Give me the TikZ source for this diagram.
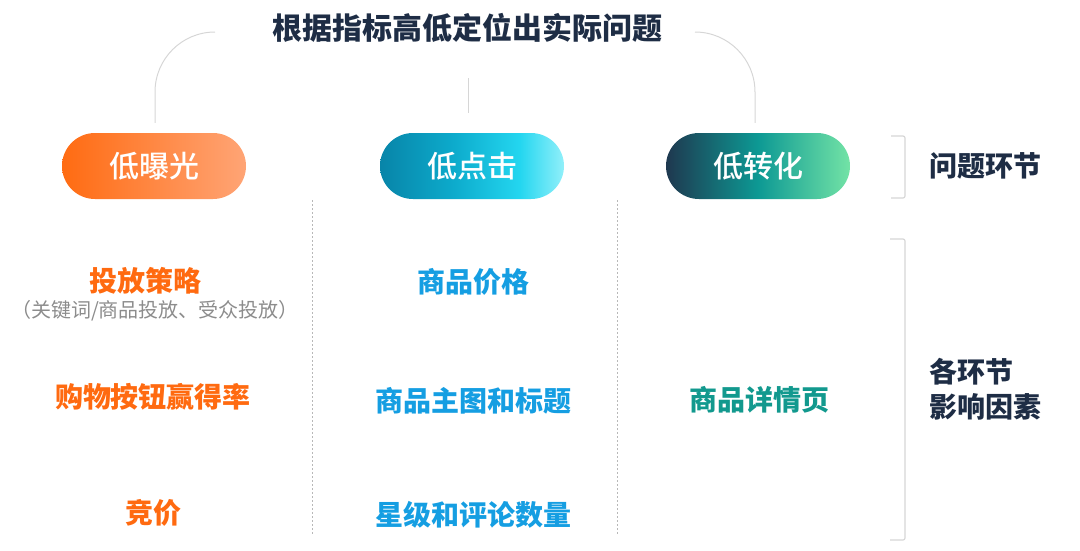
\documentclass[tikz,border=0pt]{standalone}
\usepackage{fontspec}
\setmainfont{Noto Sans CJK SC}
\newfontfamily\medfont{Noto Sans CJK SC Medium}
\usetikzlibrary{positioning}
\definecolor{navy}{HTML}{1E2D45}
\definecolor{orangetxt}{HTML}{FF6A10}
\definecolor{bluetxt}{HTML}{159EE2}
\definecolor{tealtxt}{HTML}{12998E}
\definecolor{linegray}{HTML}{D6D6D6}
\pgfdeclarehorizontalshading{exposhade}{100bp}{rgb(0bp)=(1,0.42,0.07); rgb(25bp)=(1,0.42,0.07);
  rgb(75bp)=(1,0.645,0.46); rgb(100bp)=(1,0.645,0.46)}
\pgfdeclarehorizontalshading{clickshade}{100bp}{rgb(0bp)=(0.03,0.52,0.66); rgb(25bp)=(0.03,0.52,0.66);
  rgb(45bp)=(0.05,0.67,0.80); rgb(63bp)=(0.14,0.84,0.94); rgb(75bp)=(0.57,0.94,0.98); rgb(100bp)=(0.57,0.94,0.98)}
\pgfdeclarehorizontalshading{convshade}{100bp}{rgb(0bp)=(0.12,0.22,0.31); rgb(25bp)=(0.12,0.22,0.31);
  rgb(50bp)=(0.05,0.60,0.58); rgb(75bp)=(0.45,0.89,0.65); rgb(100bp)=(0.45,0.89,0.65)}

\begin{document}
\begin{tikzpicture}[x=1pt,y=-1pt,
    pill/.style={rounded corners=33pt, minimum width=184pt, minimum height=66pt,
      inner sep=0pt, text=white, font=\fontsize{30}{34}\medfont},
    factor/.style={font=\fontsize{28}{32}\selectfont\bfseries},
    side/.style={text=navy, font=\fontsize{28}{35}\selectfont\bfseries, align=left},
    bracket/.style={draw=linegray, line width=1.2pt, rounded corners=2pt},
    guide/.style={draw=linegray, line width=1pt},
    sep/.style={draw=black!28, dash pattern=on 2pt off 2pt, line width=0.8pt}]
  \useasboundingbox (0,0) rectangle (1080,550);
  % title
  \node[text=navy, font=\fontsize{30}{34}\selectfont\bfseries] (title) at (467,28) {根据指标高低定位出实际问题};
  % the three problem stages
  \node[pill, shading=exposhade] (expo) at (154,166) {低曝光};
  \node[pill, shading=clickshade] (click) at (472,166) {低点击};
  \node[pill, shading=convshade] (conv) at (758,166) {低转化};
  % guide lines from title
  \coordinate (lefttop) at (215,32);
  \coordinate (righttop) at (695,32);
  \draw[guide, rounded corners=60pt] (lefttop) -- (155,32) -- ([yshift=10pt]expo.north -| 155,0);
  \draw[guide, rounded corners=60pt] (righttop) -- (755,32) -- ([yshift=10pt]conv.north -| 755,0);
  \draw[guide] (468,78) -- (468,113);
  % column separators
  \draw[sep] (312,200) -- (312,534);
  \draw[sep] (617,200) -- (617,534);
  % exposure factors
  \node[factor, text=orangetxt] (strategy) at (145,281) {投放策略};
  \node[text=black!45, font=\fontsize{20}{24}\selectfont] (strategynote) at (155,311) {（关键词/商品投放、受众投放）};
  \node[factor, text=orangetxt] (buybox) at (153,397) {购物按钮赢得率};
  \node[factor, text=orangetxt] (bid) at (153,513) {竞价};
  % click factors
  \node[factor, text=bluetxt] (price) at (473,282) {商品价格};
  \node[factor, text=bluetxt] (image) at (473,401) {商品主图和标题};
  \node[factor, text=bluetxt] (review) at (473,515) {星级和评论数量};
  % conversion factors
  \node[factor, text=tealtxt] (detail) at (759,400) {商品详情页};
  % right side brackets
  \draw[bracket] (891,136) -- (905,136) -- (905,198) -- (891,198);
  \node[side, anchor=west] (stage) at (926,166) {问题环节};
  \draw[bracket] (890,239) -- (905,239) -- (905,540) -- (890,540);
  \node[side, anchor=west] (influence) at (926,389) {各环节\\{\medfont 影响因素}};
\end{tikzpicture}
\end{document}
